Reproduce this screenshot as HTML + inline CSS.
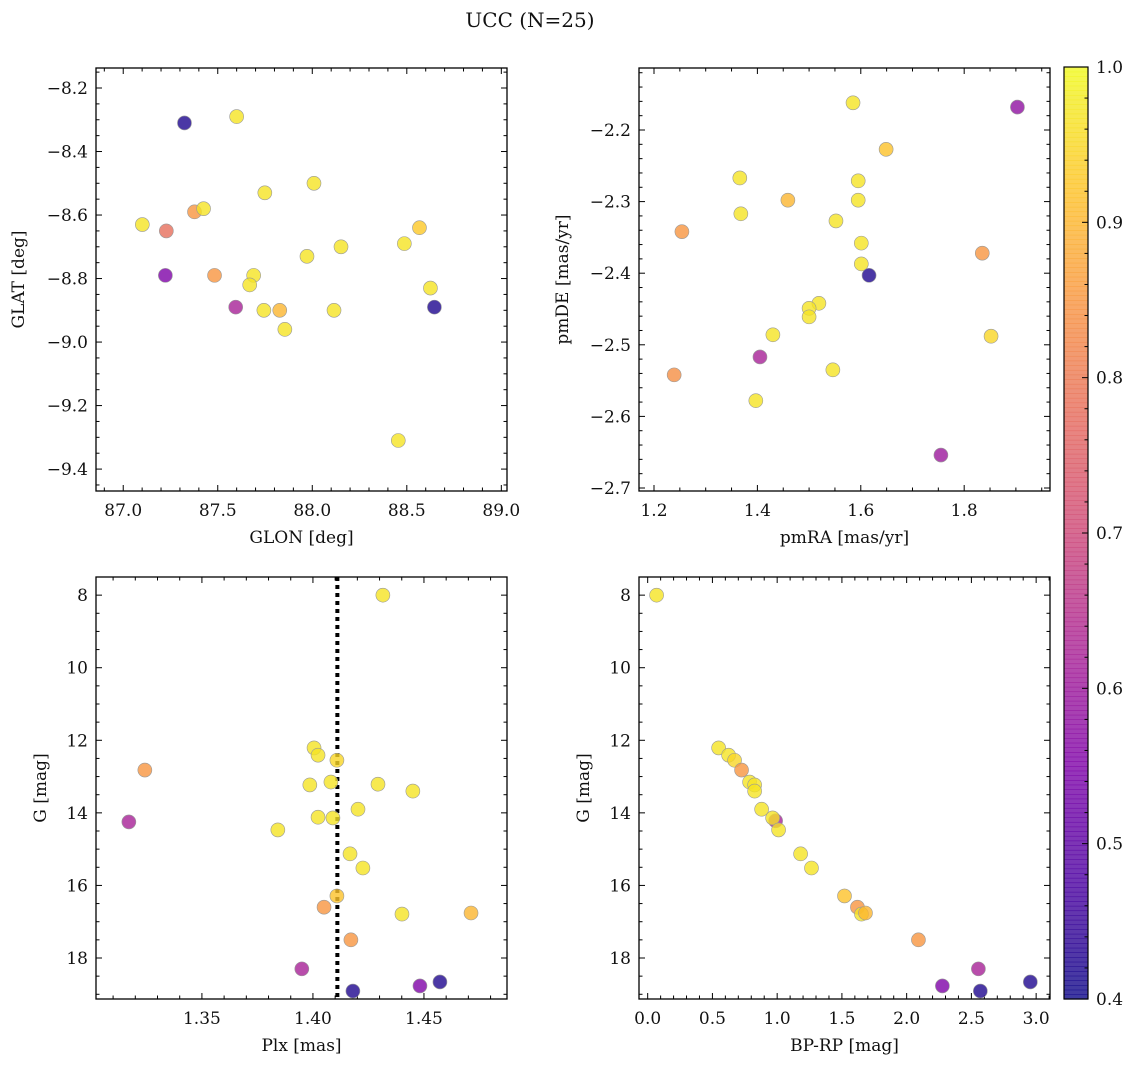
<!DOCTYPE html>
<html><head><meta charset="utf-8"><style>
body{margin:0;background:#fff}
svg text{font-family:"DejaVu Serif","Liberation Serif",serif;fill:#111}
</style></head><body>
<svg id="fig" width="1136" height="1067" xmlns="http://www.w3.org/2000/svg">
<text x="530" y="27" font-size="20" text-anchor="middle">UCC (N=25)</text>
</svg>
<script>
// Top-left: GLON vs GLAT
const tlX=[87.324,87.600,87.101,87.228,87.377,87.425,87.223,87.483,87.749,88.009,87.690,87.669,87.595,87.744,87.828,87.855,87.972,88.152,88.115,88.487,88.567,88.646,88.625,88.455];
const tlY=[-8.31,-8.29,-8.63,-8.65,-8.59,-8.58,-8.79,-8.79,-8.53,-8.50,-8.79,-8.82,-8.89,-8.90,-8.90,-8.96,-8.73,-8.70,-8.90,-8.69,-8.64,-8.89,-8.83,-9.31];
const tlP=[0.42,0.97,0.97,0.78,0.85,0.97,0.55,0.85,0.97,0.97,0.97,0.97,0.62,0.97,0.9,0.97,0.97,0.97,0.97,0.97,0.93,0.42,0.97,0.97];
// Top-right: pmRA vs pmDE
const trX=[1.585,1.903,1.649,1.366,1.595,1.459,1.595,1.368,1.254,1.552,1.601,1.835,1.601,1.616,1.519,1.500,1.500,1.430,1.852,1.405,1.239,1.546,1.397,1.755];
const trY=[-2.162,-2.168,-2.227,-2.267,-2.271,-2.298,-2.298,-2.317,-2.342,-2.327,-2.358,-2.372,-2.387,-2.403,-2.442,-2.449,-2.461,-2.486,-2.488,-2.517,-2.542,-2.535,-2.578,-2.654];
const trP=[0.97,0.58,0.92,0.97,0.97,0.9,0.97,0.97,0.85,0.97,0.97,0.85,0.97,0.42,0.97,0.97,0.97,0.97,0.95,0.62,0.84,0.97,0.97,0.6];
// Bottom-left: Plx vs G
const blX=[1.4315,1.3243,1.3171,1.4005,1.4023,1.4108,1.3986,1.4081,1.4293,1.4450,1.4203,1.4023,1.4090,1.3842,1.4167,1.4225,1.4108,1.4050,1.4401,1.4712,1.4171,1.3950,1.4180,1.4482,1.4572];
const blY=[8.0,12.82,14.25,12.21,12.41,12.55,13.23,13.15,13.21,13.40,13.90,14.12,14.14,14.47,15.13,15.52,16.29,16.60,16.79,16.76,17.50,18.30,18.91,18.77,18.66];
const blP=[0.97,0.85,0.62,0.97,0.97,0.95,0.97,0.97,0.97,0.97,0.97,0.97,0.97,0.97,0.97,0.97,0.92,0.85,0.97,0.9,0.85,0.62,0.42,0.55,0.42];
const plxLine=1.411;
// Bottom-right: BP-RP vs G
const brX=[0.069,0.548,0.625,0.671,0.725,0.787,0.826,0.826,0.880,0.988,0.965,1.011,1.181,1.265,1.520,1.620,1.651,1.682,2.091,2.554,2.276,2.569,2.955];
const brY=[8.0,12.21,12.41,12.55,12.82,13.15,13.23,13.40,13.90,14.22,14.14,14.47,15.13,15.52,16.29,16.60,16.79,16.76,17.50,18.30,18.77,18.91,18.66];
const brP=[0.97,0.97,0.97,0.95,0.85,0.97,0.97,0.97,0.97,0.62,0.97,0.97,0.97,0.97,0.92,0.85,0.97,0.9,0.85,0.62,0.55,0.42,0.42];
const cbTicks=[0.4,0.5,0.6,0.7,0.8,0.9,1.0];

const NS='http://www.w3.org/2000/svg';
const svg=document.getElementById('fig');
function mk(tag,at,parent){const e=document.createElementNS(NS,tag);for(const k in at)e.setAttribute(k,at[k]);(parent||svg).appendChild(e);return e;}
const stops=[[0,[13,8,135]],[0.125,[76,2,161]],[0.25,[126,3,168]],[0.375,[169,35,149]],[0.5,[204,71,120]],[0.625,[229,107,93]],[0.75,[248,149,64]],[0.875,[253,197,39]],[1,[240,249,33]]];
function plasma(t){t=Math.max(0,Math.min(1,t));for(let i=1;i<stops.length;i++){if(t<=stops[i][0]){const a=stops[i-1],b=stops[i];const f=(t-a[0])/(b[0]-a[0]);const c=a[1].map((v,j)=>Math.round(v+(b[1][j]-v)*f));return `rgb(${c})`;}}return 'rgb(240,249,33)';}
function pcol(p){return plasma((p-0.4)/0.6);}
function fmt(v,d){return (v<0?'\u2212':'')+Math.abs(v).toFixed(d);}

function panel(o){
  const g=mk('g',{});
  
  
  const sx=v=>o.x0+(v-o.xmin)/(o.xmax-o.xmin)*(o.x1-o.x0);
  const sy=v=>o.y0+(v-o.ymin)/(o.ymax-o.ymin)*(o.y1-o.y0);
  const eps=1e-9;
  const lo=Math.min(o.xmin,o.xmax),hi=Math.max(o.xmin,o.xmax);
  for(let v=Math.ceil(lo/o.xminor-eps)*o.xminor;v<=hi+eps;v+=o.xminor){const px=sx(v);
    const major=Math.abs(v/o.xmajor-Math.round(v/o.xmajor))<1e-6;const L=major?6:3.5;
    mk('line',{x1:px,x2:px,y1:o.y1,y2:o.y1-L,stroke:'#000','stroke-width':1},g);
    mk('line',{x1:px,x2:px,y1:o.y0,y2:o.y0+L,stroke:'#000','stroke-width':1},g);
    if(major){const t=mk('text',{x:px,y:o.y1+25,'font-size':17,'text-anchor':'middle'},g);t.textContent=fmt(v,o.xd);
      }}
  const ylo=Math.min(o.ymin,o.ymax),yhi=Math.max(o.ymin,o.ymax);
  for(let v=Math.ceil(ylo/o.yminor-eps)*o.yminor;v<=yhi+eps;v+=o.yminor){const py=sy(v);
    const major=Math.abs(v/o.ymajor-Math.round(v/o.ymajor))<1e-6;const L=major?6:3.5;
    mk('line',{x1:o.x0,x2:o.x0+L,y1:py,y2:py,stroke:'#000','stroke-width':1},g);
    mk('line',{x1:o.x1,x2:o.x1-L,y1:py,y2:py,stroke:'#000','stroke-width':1},g);
    if(major){const t=mk('text',{x:o.x0-8,y:py+6,'font-size':17,'text-anchor':'end'},g);t.textContent=fmt(v,o.yd);
      }}
  if(o.vline!==undefined){const l=mk('line',{x1:sx(o.vline),x2:sx(o.vline),y1:o.y0,y2:o.y1,stroke:'#000','stroke-width':4,'stroke-dasharray':'4,4'},g);
    }
  for(let i=0;i<o.X.length;i++){const c=mk('circle',{cx:sx(o.X[i]),cy:sy(o.Y[i]),r:7,fill:pcol(o.P[i]),'fill-opacity':0.8,stroke:'#999','stroke-width':0.6},g);
    }
  const fr=mk('rect',{x:o.x0,y:o.y0,width:o.x1-o.x0,height:o.y1-o.y0,fill:'none',stroke:'#000','stroke-width':1.3},g);
  
  const xl=mk('text',{x:(o.x0+o.x1)/2,y:o.y1+52,'font-size':17,'text-anchor':'middle'},g);xl.textContent=o.xl;
  
  const yl=mk('text',{x:0,y:0,'font-size':17,'text-anchor':'middle',transform:`translate(${o.ylx},${(o.y0+o.y1)/2}) rotate(-90)`},g);yl.textContent=o.yl;
  
}
panel({name:'glon-glat-panel',x0:96,x1:507,y0:68,y1:491,xmin:86.856,xmax:89.03,ymin:-8.137,ymax:-9.469,xmajor:0.5,xminor:0.1,ymajor:0.2,yminor:0.05,xd:1,yd:1,X:tlX,Y:tlY,P:tlP,xl:'GLON [deg]',yl:'GLAT [deg]',ylx:24});
panel({name:'pm-panel',x0:639,x1:1050,y0:68,y1:491,xmin:1.171,xmax:1.966,ymin:-2.1134,ymax:-2.7042,xmajor:0.2,xminor:0.05,ymajor:0.1,yminor:0.02,xd:1,yd:1,X:trX,Y:trY,P:trP,xl:'pmRA [mas/yr]',yl:'pmDE [mas/yr]',ylx:568});
panel({name:'plx-g-panel',x0:96,x1:507,y0:577,y1:999,xmin:1.3023,xmax:1.4874,ymin:7.5,ymax:19.13,xmajor:0.05,xminor:0.01,ymajor:2,yminor:0.5,xd:2,yd:0,X:blX,Y:blY,P:blP,vline:plxLine,xl:'Plx [mas]',yl:'G [mag]',ylx:46});
panel({name:'cmd-panel',x0:639,x1:1050,y0:577,y1:999,xmin:-0.067,xmax:3.107,ymin:7.5,ymax:19.13,xmajor:0.5,xminor:0.1,ymajor:2,yminor:0.5,xd:1,yd:0,X:brX,Y:brY,P:brP,xl:'BP-RP [mag]',yl:'G [mag]',ylx:589});

const cb=mk('g',{});


const cx0=1064,cx1=1088,cy0=67,cy1=999;
const N=200;
for(let i=0;i<N;i++){const t=i/N;const y=cy1-(i+1)/N*(cy1-cy0);
  mk('rect',{x:cx0,y:y,width:cx1-cx0,height:(cy1-cy0)/N+0.6,fill:plasma(t+0.5/N),'fill-opacity':0.8},cb);}
mk('rect',{x:cx0,y:cy0,width:cx1-cx0,height:cy1-cy0,fill:'none',stroke:'#000','stroke-width':1.2},cb);
const sc=v=>cy1-(v-0.4)/0.6*(cy1-cy0);
for(let v=0.4;v<=1.0001;v+=0.02){const y=sc(v);const major=Math.abs(v*10-Math.round(v*10))<1e-6;
  mk('line',{x1:cx1,x2:cx1-(major?6:3.5),y1:y,y2:y,stroke:'#000','stroke-width':1},cb);}
for(const v of cbTicks){const t=mk('text',{x:1096,y:sc(v)+6,'font-size':17},cb);t.textContent=v.toFixed(1);
  
  }
</script>
</body></html>
